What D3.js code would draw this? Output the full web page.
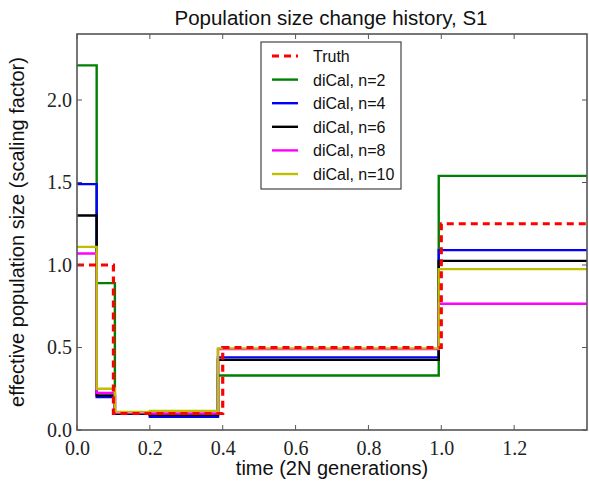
<!DOCTYPE html>
<html><head><meta charset="utf-8">
<script src="https://cdn.jsdelivr.net/npm/d3@7"></script>
<style>body{margin:0;background:#fff}svg{display:block}</style>
</head><body>
<svg id="c" width="589" height="486"></svg>
<script>
// ---- data ----
const truthTimes = [0, 0.1, 0.4, 1.0, 1.4];
const truthValues = [1.0, 0.1, 0.5, 1.25];
const dicalTimes = [0, 0.054, 0.104, 0.2, 0.387, 0.993, 1.4];
const seriesNames = ["diCal, n=2", "diCal, n=4", "diCal, n=6", "diCal, n=8", "diCal, n=10"];
const n2Values  = [2.21, 0.89, 0.10, 0.09, 0.33, 1.54];
const n4Values  = [1.49, 0.20, 0.10, 0.08, 0.44, 1.09];
const n6Values  = [1.30, 0.21, 0.10, 0.09, 0.425, 1.025];
const n8Values  = [1.07, 0.225, 0.105, 0.10, 0.49, 0.765];
const n10Values = [1.11, 0.25, 0.11, 0.115, 0.495, 0.975];
const xTicks = [0, 0.2, 0.4, 0.6, 0.8, 1.0, 1.2];
const yTicks = [0, 0.5, 1.0, 1.5, 2.0];

const colors = ["#008000", "#0000ff", "#000000", "#ff00ff", "#bfbf00"];
const truthColor = "#ff0000";

const svg = d3.select("#c");
const L = 77, R = 587, T = 34, B = 430;
const x = d3.scaleLinear().domain([0, 1.4]).range([L, R]);
const y = d3.scaleLinear().domain([0, 2.4]).range([B, T]);

svg.append("defs").append("clipPath").attr("id", "clip")
  .append("rect").attr("x", L).attr("y", T).attr("width", R - L).attr("height", B - T);

function stepPts(times, vals) {
  const pts = vals.map((v, i) => [times[i], v]);
  pts.push([times[times.length - 1], vals[vals.length - 1]]);
  return pts;
}
const line = d3.line().x(d => x(d[0])).y(d => y(d[1])).curve(d3.curveStepAfter);

const g = svg.append("g").attr("clip-path", "url(#clip)");
const allSeries = [n2Values, n4Values, n6Values, n8Values, n10Values];
allSeries.forEach((vals, i) => {
  g.append("path").attr("d", line(stepPts(dicalTimes, vals)))
    .attr("fill", "none").attr("stroke", colors[i]).attr("stroke-width", 2.4);
});
g.append("path").attr("d", line(stepPts(truthTimes, truthValues)))
  .attr("fill", "none").attr("stroke", truthColor).attr("stroke-width", 3.2)
  .attr("stroke-dasharray", "7,5");

// frame
const spine = "#555";
svg.append("rect").attr("x", L).attr("y", T).attr("width", R - L).attr("height", B - T)
  .attr("fill", "none").attr("stroke", spine).attr("stroke-width", 1.6);

// ticks (inward, all sides)
const tl = 5;
xTicks.forEach(t => {
  svg.append("line").attr("x1", x(t)).attr("x2", x(t)).attr("y1", B).attr("y2", B - tl).attr("stroke", spine);
  svg.append("line").attr("x1", x(t)).attr("x2", x(t)).attr("y1", T).attr("y2", T + tl).attr("stroke", spine);
});
yTicks.forEach(t => {
  svg.append("line").attr("x1", L).attr("x2", L + tl).attr("y1", y(t)).attr("y2", y(t)).attr("stroke", spine);
  svg.append("line").attr("x1", R).attr("x2", R - tl).attr("y1", y(t)).attr("y2", y(t)).attr("stroke", spine);
});

// tick labels via axes (lines hidden)
const fmt = d3.format(".1f");
const xa = svg.append("g").attr("transform", `translate(0,${B})`)
  .call(d3.axisBottom(x).tickValues(xTicks).tickFormat(fmt).tickSize(0).tickPadding(11));
const ya = svg.append("g").attr("transform", `translate(${L},0)`)
  .call(d3.axisLeft(y).tickValues(yTicks).tickFormat(fmt).tickSize(0).tickPadding(5));
[xa, ya].forEach(a => {
  a.attr("font-family", null).attr("font-size", null);
  a.select(".domain").remove();
  a.selectAll("text")
    .style("font-family", "'Liberation Serif', 'Times New Roman', serif")
    .style("font-size", "20px").attr("fill", "#222");
});

// titles
const sans = "'Liberation Sans', Arial, sans-serif";
svg.append("text").attr("x", 331).attr("y", 25).attr("text-anchor", "middle")
  .style("font-family", sans).style("font-size", "20.5px").attr("fill", "#111")
  .text("Population size change history, S1");
svg.append("text").attr("x", 332).attr("y", 475).attr("text-anchor", "middle")
  .style("font-family", sans).style("font-size", "20px").attr("fill", "#111")
  .text("time (2N generations)");
svg.append("text").attr("transform", `translate(24,${(T + B) / 2}) rotate(-90)`)
  .attr("text-anchor", "middle").style("font-family", sans).style("font-size", "20px").attr("fill", "#111")
  .text("effective population size (scaling factor)");

// legend
const lg = svg.append("g");
const lx = 261, ly = 42, lw = 140, lh = 147, step = 23.6;
lg.append("rect").attr("x", lx).attr("y", ly).attr("width", lw).attr("height", lh)
  .attr("fill", "#fff").attr("stroke", "#444").attr("stroke-width", 1.2);
const legendItems = [{name: "Truth", color: truthColor, dash: true}]
  .concat(seriesNames.map((n, i) => ({name: n, color: colors[i], dash: false})));
legendItems.forEach((it, i) => {
  const yy = ly + 14 + i * step;
  lg.append("line").attr("x1", lx + 11).attr("x2", lx + 37).attr("y1", yy).attr("y2", yy)
    .attr("stroke", it.color).attr("stroke-width", it.dash ? 3.2 : 2.4)
    .attr("stroke-dasharray", it.dash ? "7,5" : null);
  lg.append("text").attr("x", lx + 52).attr("y", yy + 6)
    .style("font-family", sans).style("font-size", "16px").attr("fill", "#111").text(it.name);
});
</script>
</body></html>
